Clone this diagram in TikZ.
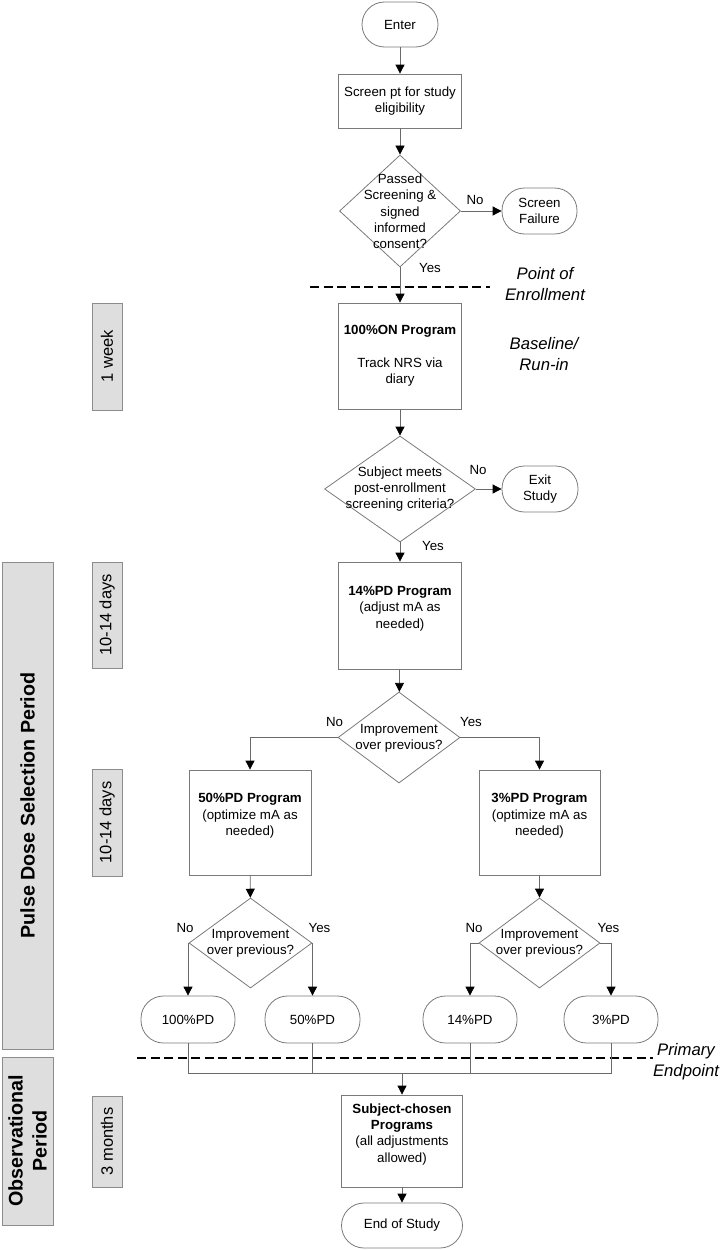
\documentclass[tikz,border=0pt]{standalone}
\usepackage{fontspec}
\setmainfont{Liberation Sans}
\usetikzlibrary{arrows.meta,shapes.geometric}
\definecolor{linegray}{HTML}{7A7A7A}
\definecolor{conngray}{HTML}{6A6A6A}
\definecolor{gfill}{HTML}{DEDEDE}
\definecolor{gline}{HTML}{8C8C8C}
\newcommand\bodyfont{\fontsize{13.3}{16.3}\selectfont}
\newcommand\durfont{\fontsize{16.5}{20}\selectfont}
\newcommand\itlabelfont{\fontsize{16.7}{21}\selectfont\itshape}
\newcommand\bigboldfont{\fontsize{19.7}{24}\selectfont\bfseries}
\begin{document}
\begin{tikzpicture}[x=1pt,y=-1pt,
  shp/.style={draw=linegray, line width=0.8pt, inner sep=0pt, align=center, font=\bodyfont},
  proc/.style={shp, rectangle},
  term/.style={shp, rectangle, rounded corners=22.5pt},
  dec/.style={shp, diamond},
  txt/.style={inner sep=0pt, align=center, font=\bodyfont},
  gbox/.style={draw=gline, fill=gfill, line width=0.8pt, inner sep=0pt, align=center, rotate=90},
  conn/.style={draw=conngray, line width=0.8pt, -{Triangle[length=9pt,width=9pt,color=black]}},
  link/.style={draw=conngray, line width=0.8pt},
  lbl/.style={inner sep=0pt, font=\bodyfont},
  ital/.style={inner sep=0pt, align=center, font=\itlabelfont},
  sepline/.style={draw=black, line width=2.5pt, dash pattern=on 9pt off 4.5pt},
]
\useasboundingbox (0,0) rectangle (726,1250);

% ---- timeline boxes ----
\node[gbox, minimum width=487, minimum height=51, font=\bigboldfont] (pds) at (27.5,805.5) {Pulse Dose Selection Period};
\node[gbox, minimum width=168, minimum height=51, font=\bigboldfont] (obs) at (27.5,1141) {Observational\\Period};
\node[gbox, minimum width=107, minimum height=30, font=\durfont] (g1) at (107,356.5) {1 week};
\node[gbox, minimum width=106, minimum height=30, font=\durfont] (g2) at (107,615) {10-14 days};
\node[gbox, minimum width=107, minimum height=30, font=\durfont] (g3) at (107,822.5) {10-14 days};
\node[gbox, minimum width=91, minimum height=30, font=\durfont] (g4) at (107,1141.5) {3 months};

% ---- separators ----
\coordinate (s1a) at (310,287);
\coordinate (s1b) at (490,287);
\coordinate (s2a) at (137,1058);
\coordinate (s2b) at (653,1058);
\draw[sepline] (s1a) -- (s1b);
\draw[sepline] (s2a) -- (s2b);

\node[ital] (poe) at (545,284) {Point of\\Enrollment};
\node[ital] (bri) at (544,354.5) {Baseline/\\Run-in};
\node[ital] (pep) at (686,1062) {Primary\\Endpoint};

% ---- flow shapes ----
\node[term, minimum width=76, minimum height=45] (enter) at (400,24.5) {Enter};
\node[proc, minimum width=123, minimum height=54] (screen) at (400,101) {Screen pt for study\\eligibility};
\node[dec, minimum width=121, minimum height=112] (d1) at (400,211) {};
\node[txt] (d1t) at (400,211.5) {Passed\\Screening \&\\signed\\informed\\consent?};
\node[term, minimum width=75, minimum height=46] (fail) at (539.5,211) {Screen\\Failure};

\node[proc, minimum width=123, minimum height=106] (on) at (400,356) {\textbf{100\%ON Program}\\[16.3pt]Track NRS via\\diary};
\node[dec, minimum width=151, minimum height=106] (d2) at (400,489) {};
\node[txt] (d2t) at (400,489) {Subject meets\\post-enrollment\\screening criteria?};
\node[term, minimum width=76, minimum height=46] (exit) at (540,489) {Exit\\Study};

\node[proc, minimum width=123, minimum height=107] (p14) at (400,615.5) {\textbf{14\%PD Program}\\(adjust mA as\\needed)\\\mbox{}};
\node[dec, minimum width=122, minimum height=91] (d3) at (399,737.5) {};
\node[txt] (d3t) at (399,738) {Improvement\\over previous?};

\node[proc, minimum width=122, minimum height=105] (p50) at (250,822.5) {\textbf{50\%PD Program}\\(optimize mA as\\needed)\\\mbox{}};
\node[proc, minimum width=121, minimum height=105] (p3) at (539.5,822.5) {\textbf{3\%PD Program}\\(optimize mA as\\needed)\\\mbox{}};

\node[dec, minimum width=123, minimum height=90] (d4) at (250.5,943) {};
\node[txt] (d4t) at (250.5,943.5) {Improvement\\over previous?};
\node[dec, minimum width=121, minimum height=90] (d5) at (539.5,943) {};
\node[txt] (d5t) at (539.5,943.5) {Improvement\\over previous?};

\node[term, minimum width=94, minimum height=47] (t100) at (188,1019.5) {100\%PD};
\node[term, minimum width=95, minimum height=47] (t50) at (312.5,1019.5) {50\%PD};
\node[term, minimum width=94, minimum height=47] (t14) at (470,1019.5) {14\%PD};
\node[term, minimum width=94, minimum height=47] (t3) at (611,1019.5) {3\%PD};

\node[proc, minimum width=121, minimum height=92] (subj) at (402,1141) {\textbf{Subject-chosen}\\\textbf{Programs}\\(all adjustments\\allowed)\\\mbox{}};
\node[term, minimum width=121, minimum height=45] (end) at (402,1225.5) {End of Study};

% ---- labels ----
\node[lbl] (l1n) at (475,200) {No};
\node[lbl] (l1y) at (430,268) {Yes};
\node[lbl] (l2n) at (478,470) {No};
\node[lbl] (l2y) at (433,546) {Yes};
\node[lbl] (l3n) at (334.5,722) {No};
\node[lbl] (l3y) at (471,722) {Yes};
\node[lbl] (l4n) at (185,928) {No};
\node[lbl] (l4y) at (319.5,928) {Yes};
\node[lbl] (l5n) at (474,928) {No};
\node[lbl] (l5y) at (608.5,928) {Yes};

% ---- connectors ----
\draw[conn] (enter) -- (screen);
\draw[conn] (screen) -- (d1);
\draw[conn] (d1.east) -- (fail.west);
\draw[conn] (d1.south) -- (on.north);
\draw[conn] (on) -- (d2);
\draw[conn] (d2.east) -- (exit.west);
\draw[conn] (d2.south) -- (p14.north);
\draw[conn] (p14) -- (d3);
\draw[conn] (d3.west) -| (p50.north);
\draw[conn] (d3.east) -| (p3.north);
\draw[conn] (p50) -- (d4);
\draw[conn] (p3) -- (d5);
\draw[conn] (d4.west) -| (t100.north);
\draw[conn] (d4.east) -| (t50.north);
\draw[conn] (d5.west) -| (t14.north);
\draw[conn] (d5.east) -| (t3.north);

\coordinate (mR) at (611,1073);
\coordinate (mC) at (402,1073);
\draw[link] (t100.south) |- (mR) -- (t3.south);
\draw[link] (t50.south) -- (t50.south |- mC);
\draw[link] (t14.south) -- (t14.south |- mC);
\draw[conn] (mC) -- (subj.north);
\draw[conn] (subj) -- (end);
\end{tikzpicture}
\end{document}
